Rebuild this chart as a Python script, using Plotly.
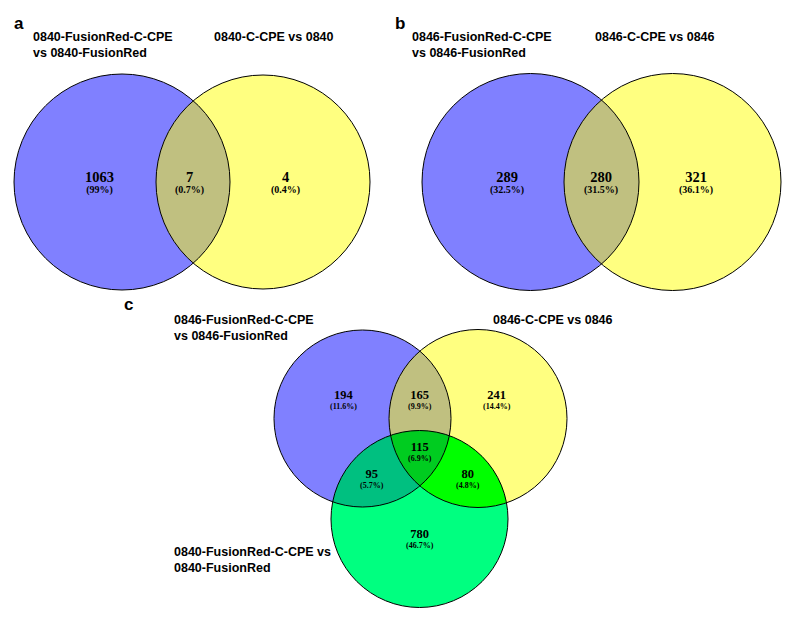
import numpy as np
import plotly.graph_objects as go

# ---------------- data ----------------
panel_letters = ["a", "b", "c"]

a_sets = ["0840-FusionRed-C-CPE<br>vs 0840-FusionRed", "0840-C-CPE vs 0840"]
a_counts = [1063, 7, 4]
a_pcts = ["99%", "0.7%", "0.4%"]

b_sets = ["0846-FusionRed-C-CPE<br>vs 0846-FusionRed", "0846-C-CPE vs 0846"]
b_counts = [289, 280, 321]
b_pcts = ["32.5%", "31.5%", "36.1%"]

c_sets = ["0846-FusionRed-C-CPE<br>vs 0846-FusionRed", "0846-C-CPE vs 0846",
          "0840-FusionRed-C-CPE vs<br>0840-FusionRed"]
# regions: A only, A&B, B only, A&B&C, A&C, B&C, C only
c_counts = [194, 165, 241, 115, 95, 80, 780]
c_pcts = ["11.6%", "9.9%", "14.4%", "6.9%", "5.7%", "4.8%", "46.7%"]

# ---------------- layout geometry (pixels) ----------------
W, H = 794, 619
circ_a = [(122, 182, 108), (263, 182, 107)]
circ_b = [(530.5, 182, 108.5), (672.5, 182, 108.5)]
circ_c = [(362.5, 418.5, 88.5), (478, 418.5, 89), (419.5, 519, 88.5)]

BLUE, YELLOW, GREEN = "#8080ff", "#ffff80", "#00ff80"
BY, BG, YG, BYG = "#c0c080", "#00c080", "#00ff00", "#00cc20"

fig = go.Figure()


def inside(p, c, tol=1e-6):
    return (p[0] - c[0]) ** 2 + (p[1] - c[1]) ** 2 <= c[2] ** 2 + tol


def region(circles, color):
    pts = []
    t = np.linspace(0, 2 * np.pi, 1440, endpoint=False)
    for i, c in enumerate(circles):
        xs = c[0] + c[2] * np.cos(t)
        ys = c[1] + c[2] * np.sin(t)
        for x, y in zip(xs, ys):
            if all(inside((x, y), o, 0.5) for j, o in enumerate(circles) if j != i):
                pts.append((x, y))
    pts = np.array(pts)
    cx, cy = pts[:, 0].mean(), pts[:, 1].mean()
    order = np.argsort(np.arctan2(pts[:, 1] - cy, pts[:, 0] - cx))
    pts = pts[order]
    fig.add_trace(go.Scatter(x=np.append(pts[:, 0], pts[0, 0]),
                             y=np.append(pts[:, 1], pts[0, 1]),
                             mode="lines", fill="toself", fillcolor=color,
                             line=dict(width=0, color=color),
                             hoverinfo="skip", showlegend=False))


# base circles
for circs, cols in [(circ_a, [BLUE, YELLOW]), (circ_b, [BLUE, YELLOW]),
                    (circ_c, [BLUE, YELLOW, GREEN])]:
    for c, col in zip(circs, cols):
        region([c], col)

region(circ_a, BY)
region(circ_b, BY)
region([circ_c[0], circ_c[1]], BY)
region([circ_c[0], circ_c[2]], BG)
region([circ_c[1], circ_c[2]], YG)
region(circ_c, BYG)

shapes = []
for c in circ_a + circ_b + circ_c:
    shapes.append(dict(type="circle", xref="x", yref="y",
                       x0=c[0] - c[2], x1=c[0] + c[2], y0=c[1] - c[2], y1=c[1] + c[2],
                       line=dict(color="black", width=1), fillcolor="rgba(0,0,0,0)"))

ann = []
SANS = "Liberation Sans"
SERIF = "Liberation Serif"


def text(x, y, s, size, family, anchor="left", color="black"):
    ann.append(dict(x=x, y=y, xref="x", yref="y", text=s, showarrow=False,
                    xanchor=anchor, yanchor="middle", borderpad=0,
                    font=dict(family=family, size=size, color=color)))


# panel letters
for (x, y), L in zip([(13, 23), (394, 23), (123, 304)], panel_letters):
    text(x, y, "<b>%s</b>" % L, 17, SANS)


def titles(x, y, label, size=12.5, dy=15.5):
    for k, line in enumerate(label.split("<br>")):
        text(x, y + k * dy, "<b>%s</b>" % line, size, SANS)


titles(32, 37, a_sets[0]); titles(213, 37, a_sets[1])
titles(411, 37, b_sets[0]); titles(594, 37, b_sets[1])
titles(173, 320, c_sets[0]); titles(492, 320, c_sets[1])
titles(173, 552, c_sets[2])


def counts(xs, ys, cs, ps, s1, s2, base):
    for x, y, c, p in zip(xs, ys, cs, ps):
        s = ("<b><span style='font-size:%gpx'>%s</span></b><br>"
             "<b><span style='font-size:%gpx'>(%s)</span></b>") % (s1, c, s2, p)
        text(x, y, s, base, SERIF, "center")


counts([99, 189, 285], [182] * 3, a_counts, a_pcts, 14.5, 10, 8.5)
counts([507, 601, 696], [182] * 3, b_counts, b_pcts, 14.5, 10, 8.5)
counts([343, 420, 497, 420, 372, 468, 420], [399, 399, 399, 451, 478, 478, 538],
       c_counts, c_pcts, 12.5, 8, 7.8)

fig.update_layout(width=W, height=H, margin=dict(l=0, r=0, t=0, b=0),
                  paper_bgcolor="white", plot_bgcolor="white",
                  shapes=shapes, annotations=ann, showlegend=False,
                  xaxis=dict(range=[0, W], visible=False, fixedrange=True),
                  yaxis=dict(range=[H, 0], visible=False, fixedrange=True))
fig.write_html("out.html", config=dict(displayModeBar=False),
               post_script="document.body.style.margin='0px';document.body.style.overflow='hidden';")
